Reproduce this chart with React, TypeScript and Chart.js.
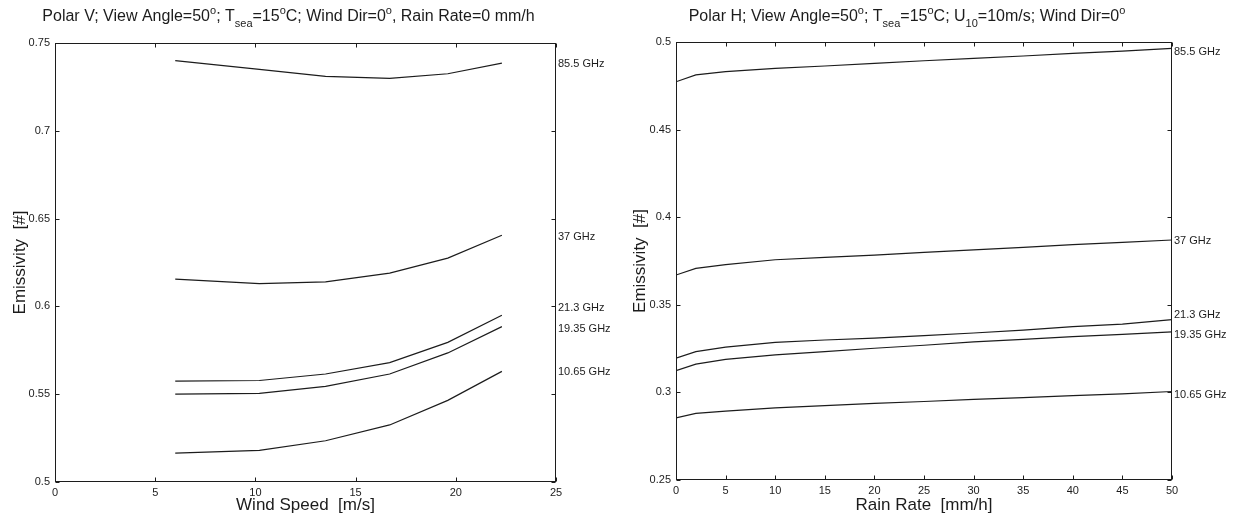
import React, { useEffect, useRef } from "react";
import { Chart, registerables } from "chart.js";

Chart.register(...registerables);

// ---------- data ----------
const windSpeed = [6, 10.2, 13.5, 16.7, 19.6, 22.3];
const wind855 = [0.74, 0.735, 0.731, 0.7298, 0.7325, 0.7385];
const wind37 = [0.6155, 0.613, 0.614, 0.619, 0.6275, 0.6405];
const wind213 = [0.5575, 0.5578, 0.5615, 0.568, 0.5795, 0.595];
const wind1935 = [0.55, 0.5505, 0.5545, 0.5615, 0.5735, 0.5885];
const wind1065 = [0.5165, 0.518, 0.5235, 0.5325, 0.5465, 0.563];

const rainRate = [0, 2, 5, 10, 15, 20, 25, 30, 35, 40, 45, 50];
const rain855 = [0.4773, 0.4812, 0.4831, 0.485, 0.4863, 0.4878, 0.4893, 0.4906, 0.492, 0.4935, 0.4948, 0.4964];
const rain37 = [0.367, 0.3708, 0.3729, 0.3757, 0.3771, 0.3784, 0.3799, 0.3814, 0.3828, 0.3843, 0.3856, 0.387];
const rain213 = [0.3195, 0.3233, 0.3258, 0.3286, 0.3299, 0.331, 0.3324, 0.3339, 0.3356, 0.3375, 0.339, 0.3415];
const rain1935 = [0.3124, 0.3161, 0.3188, 0.3214, 0.3233, 0.3252, 0.3269, 0.3288, 0.3303, 0.3318, 0.3331, 0.3345];
const rain1065 = [0.2855, 0.288, 0.2893, 0.2912, 0.2925, 0.2937, 0.2948, 0.296, 0.297, 0.2982, 0.2992, 0.3005];

const freqLabels = ["85.5 GHz", "37 GHz", "21.3 GHz", "19.35 GHz", "10.65 GHz"];

const windXTicks = [0, 5, 10, 15, 20, 25];
const windYTicks = [0.5, 0.55, 0.6, 0.65, 0.7, 0.75];
const rainXTicks = [0, 5, 10, 15, 20, 25, 30, 35, 40, 45, 50];
const rainYTicks = [0.25, 0.3, 0.35, 0.4, 0.45, 0.5];

type Seg = [string, "n" | "sup" | "sub"];
const windTitle: Seg[] = [
  ["Polar V; View Angle=50", "n"], ["o", "sup"], ["; T", "n"], ["sea", "sub"],
  ["=15", "n"], ["o", "sup"], ["C; Wind Dir=0", "n"], ["o", "sup"], [", Rain Rate=0 mm/h", "n"],
];
const rainTitle: Seg[] = [
  ["Polar H; View Angle=50", "n"], ["o", "sup"], ["; T", "n"], ["sea", "sub"],
  ["=15", "n"], ["o", "sup"], ["C; U", "n"], ["10", "sub"], ["=10m/s; Wind Dir=0", "n"], ["o", "sup"],
];
const windXTitle = "Wind Speed  [m/s]";
const rainXTitle = "Rain Rate  [mm/h]";
const yTitle = "Emissivity  [#]";

// ---------- styles ----------
const FONT = "'Liberation Sans', Arial, Helvetica, sans-serif";
const INK = "#1c1c1c";

interface PanelCfg {
  left: number;
  width: number;
  xVals: number[];
  series: number[][];
  xMin: number;
  xMax: number;
  yMin: number;
  yMax: number;
  xTicks: number[];
  yTicks: number[];
  title: Seg[];
  xTitle: string;
  padTop: number;
  padRight: number;
  yAxisW: number;
  xAxisH: number;
  labelOffsets: number[];
  yTitleX: number;
}

const panels: PanelCfg[] = [
  {
    left: 0, width: 617, xVals: windSpeed,
    series: [wind855, wind37, wind213, wind1935, wind1065],
    xMin: 0, xMax: 25, yMin: 0.5, yMax: 0.75,
    xTicks: windXTicks, yTicks: windYTicks, title: windTitle, xTitle: windXTitle,
    padTop: 43, padRight: 61, yAxisW: 55, xAxisH: 38,
    labelOffsets: [1, 2, -7, 2, 1], yTitleX: 20,
  },
  {
    left: 617, width: 618, xVals: rainRate,
    series: [rain855, rain37, rain213, rain1935, rain1065],
    xMin: 0, xMax: 50, yMin: 0.25, yMax: 0.5,
    xTicks: rainXTicks, yTicks: rainYTicks, title: rainTitle, xTitle: rainXTitle,
    padTop: 42, padRight: 63, yAxisW: 59, xAxisH: 40,
    labelOffsets: [4, 1, -5, 3, 3], yTitleX: 23,
  },
];

function decorPlugin(cfg: PanelCfg) {
  return {
    id: "decor",
    afterDraw(chart: any) {
      const { ctx, chartArea: a, scales } = chart;
      const xs = scales.x;
      const ys = scales.y;
      const L = Math.round(a.left) + 0.5;
      const R = Math.round(a.right) - 0.5;
      const T = Math.round(a.top) + 0.5;
      const B = Math.round(a.bottom) - 0.5;
      ctx.save();
      ctx.strokeStyle = INK;
      ctx.lineWidth = 1;
      ctx.strokeRect(L, T, R - L, B - T);
      const tl = 4;
      ctx.beginPath();
      xs.ticks.forEach((t: any) => {
        const p = Math.round(xs.getPixelForValue(t.value)) + 0.5;
        ctx.moveTo(p, B); ctx.lineTo(p, B - tl);
        ctx.moveTo(p, T); ctx.lineTo(p, T + tl);
      });
      ys.ticks.forEach((t: any) => {
        const p = Math.round(ys.getPixelForValue(t.value)) + 0.5;
        ctx.moveTo(L, p); ctx.lineTo(L + tl, p);
        ctx.moveTo(R, p); ctx.lineTo(R - tl, p);
      });
      ctx.stroke();

      ctx.fillStyle = INK;
      // series labels at right
      ctx.font = `11px ${FONT}`;
      ctx.textAlign = "left";
      ctx.textBaseline = "middle";
      cfg.series.forEach((s, i) => {
        const y = ys.getPixelForValue(s[s.length - 1]) + cfg.labelOffsets[i];
        ctx.fillText(freqLabels[i], a.right + 2, y);
      });

      // title with super/subscripts
      const mainF = `16px ${FONT}`;
      const smallF = `11px ${FONT}`;
      let total = 0;
      cfg.title.forEach(([t, k]) => {
        ctx.font = k === "n" ? mainF : smallF;
        total += ctx.measureText(t).width;
      });
      let x = (a.left + a.right) / 2 - 17 - total / 2;
      ctx.textBaseline = "alphabetic";
      cfg.title.forEach(([t, k]) => {
        ctx.font = k === "n" ? mainF : smallF;
        const y = k === "n" ? 21 : k === "sup" ? 14 : 27;
        ctx.fillText(t, x, y);
        x += ctx.measureText(t).width;
      });

      // x title
      ctx.font = `17px ${FONT}`;
      ctx.textAlign = "center";
      ctx.textBaseline = "middle";
      ctx.fillText(cfg.xTitle, (a.left + a.right) / 2, 505);

      // y title
      ctx.save();
      ctx.translate(cfg.yTitleX, (a.top + a.bottom) / 2);
      ctx.rotate(-Math.PI / 2);
      ctx.fillText(yTitle, 0, 0);
      ctx.restore();
      ctx.restore();
    },
  };
}

function Panel({ cfg }: { cfg: PanelCfg }) {
  const ref = useRef<HTMLCanvasElement | null>(null);
  useEffect(() => {
    const canvas = ref.current!;
    const chart = new Chart(canvas, {
      type: "line",
      data: {
        datasets: cfg.series.map((s) => ({
          data: cfg.xVals.map((x, i) => ({ x, y: s[i] })),
          borderColor: INK,
          borderWidth: 1.2,
          pointRadius: 0,
          fill: false,
          tension: 0,
        })),
      },
      options: {
        animation: false,
        responsive: false,
        devicePixelRatio: 1,
        layout: { padding: { top: cfg.padTop, right: cfg.padRight, bottom: 0, left: 0 } },
        plugins: { legend: { display: false }, tooltip: { enabled: false }, title: { display: false } },
        scales: {
          x: {
            type: "linear",
            min: cfg.xMin,
            max: cfg.xMax,
            afterBuildTicks: (s: any) => { s.ticks = cfg.xTicks.map((v) => ({ value: v })); },
            afterFit: (s: any) => { s.height = cfg.xAxisH; },
            ticks: {
              font: { family: FONT, size: 11 }, color: INK, padding: 4,
              maxRotation: 0, autoSkip: false, callback: (v: any) => String(v),
            },
            grid: { display: false, drawTicks: false },
            border: { display: false },
          },
          y: {
            type: "linear",
            min: cfg.yMin,
            max: cfg.yMax,
            afterBuildTicks: (s: any) => { s.ticks = cfg.yTicks.map((v) => ({ value: v })); },
            afterFit: (s: any) => { s.width = cfg.yAxisW; },
            ticks: {
              font: { family: FONT, size: 11 }, color: INK, padding: 5,
              autoSkip: false, callback: (v: any) => String(v),
            },
            grid: { display: false, drawTicks: false },
            border: { display: false },
          },
        },
      } as any,
      plugins: [decorPlugin(cfg)],
    });
    return () => chart.destroy();
  }, [cfg]);
  return (
    <canvas
      ref={ref}
      width={cfg.width}
      height={520}
      style={{ position: "absolute", left: cfg.left, top: 0, width: cfg.width, height: 520 }}
    />
  );
}

export default function App() {
  return (
    <div style={{ position: "absolute", left: 0, top: 0, width: 1235, height: 520, background: "#fff" }}>
      {panels.map((p, i) => (
        <Panel key={i} cfg={p} />
      ))}
    </div>
  );
}
